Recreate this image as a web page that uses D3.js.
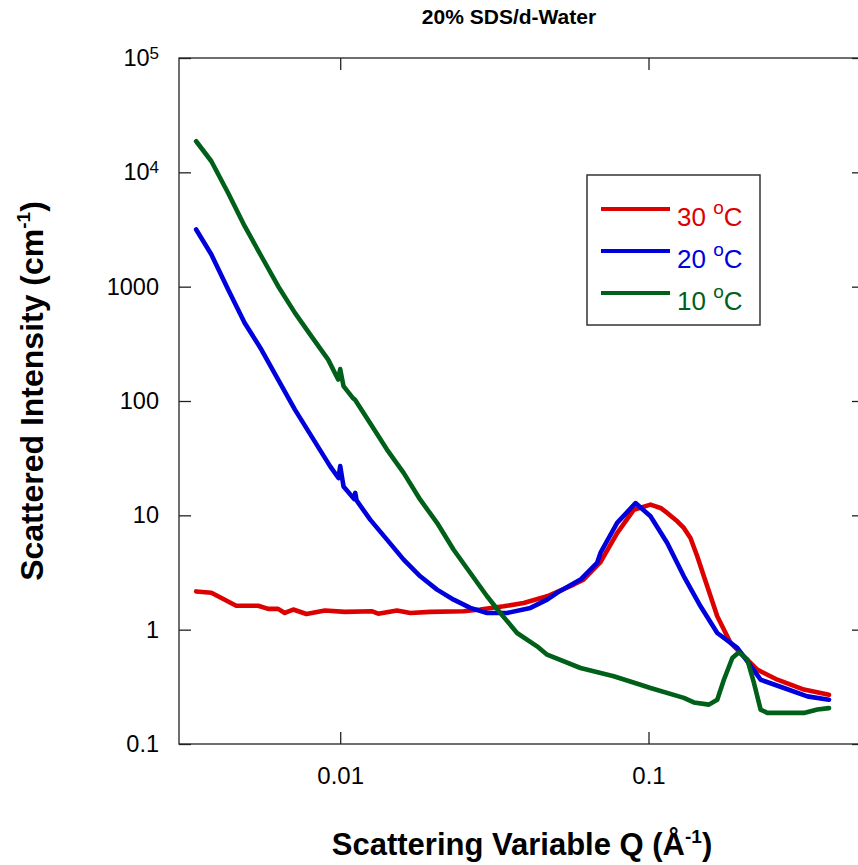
<!DOCTYPE html>
<html>
<head>
<meta charset="utf-8">
<script src="https://cdn.jsdelivr.net/npm/d3@7"></script>
<style>
  body { margin: 0; background: #fff; }
  svg { display: block; font-family: "Liberation Sans", Arial, Helvetica, sans-serif; }
</style>
</head>
<body>
<div id="chart"></div>
<script>
// Q in 1/Å, intensity in 1/cm
const q30 = [0.00341, 0.00382, 0.00460, 0.00542, 0.00584, 0.00629, 0.00661, 0.00704, 0.00777, 0.00892,
  0.01036, 0.01264, 0.01328, 0.01528, 0.01688, 0.01959, 0.02513, 0.02848, 0.03390, 0.03937,
  0.04690, 0.05721, 0.06152, 0.06985, 0.07911, 0.08963, 0.1015, 0.1094, 0.1150, 0.1240,
  0.1302, 0.1368, 0.1439, 0.1512, 0.1590, 0.1671, 0.1846, 0.2040, 0.2254, 0.2618, 0.3193, 0.3850];
const i30 = [2.16, 2.10, 1.62, 1.62, 1.52, 1.52, 1.40, 1.50, 1.37, 1.47,
  1.43, 1.45, 1.38, 1.47, 1.40, 1.43, 1.45, 1.50, 1.60, 1.71,
  1.96, 2.48, 2.74, 3.9, 7.0, 11.2, 12.4, 11.6, 10.5, 8.87,
  7.76, 6.34, 4.38, 2.93, 1.96, 1.31, 0.765, 0.585, 0.447, 0.365, 0.299, 0.27];

const q20 = [0.00341, 0.00382, 0.00433, 0.00490, 0.00555, 0.00629, 0.00713, 0.00928, 0.00987, 0.0100,
  0.01025, 0.01110, 0.01119, 0.01130, 0.01251, 0.01418, 0.01606, 0.01818, 0.02061, 0.02333,
  0.02643, 0.02994, 0.03477, 0.04139, 0.04690, 0.05053, 0.06017, 0.06810, 0.06985, 0.07911,
  0.09077, 0.1015, 0.1150, 0.1302, 0.1475, 0.1671, 0.1941, 0.2092, 0.2310, 0.2750, 0.3276, 0.3850];
const i20 = [3160, 1910, 943, 482, 282, 154, 84, 26.8, 21.2, 27,
  17.9, 13.9, 15.7, 13.5, 9.17, 6.13, 4.1, 2.93, 2.24, 1.83,
  1.55, 1.40, 1.40, 1.55, 1.83, 2.10, 2.74, 3.83, 4.69, 8.58,
  12.8, 9.8, 5.73, 2.93, 1.60, 0.935, 0.692, 0.528, 0.365, 0.309, 0.261, 0.244];

const q10 = [0.00341, 0.00382, 0.00433, 0.00490, 0.00555, 0.00629, 0.00713, 0.00807, 0.00914, 0.00985,
  0.0100, 0.01025, 0.01100, 0.01116, 0.01251, 0.01418, 0.01606, 0.01818, 0.02061, 0.02333,
  0.02643, 0.02994, 0.03307, 0.03747, 0.04350, 0.04690, 0.06017, 0.07713, 0.09419, 0.1015,
  0.1302, 0.1403, 0.1570, 0.1671, 0.1756, 0.1870, 0.1964, 0.2092, 0.2198, 0.2310, 0.2429,
  0.3193, 0.3530, 0.3850];
const i10 = [18700, 12500, 6600, 3380, 1845, 1009, 590, 368, 230, 154,
  190, 135, 106, 103, 64, 37.6, 23.5, 13.7, 8.6, 5.0,
  3.13, 1.96, 1.40, 0.935, 0.715, 0.604, 0.462, 0.391, 0.330, 0.309,
  0.253, 0.231, 0.221, 0.244, 0.365, 0.565, 0.634, 0.547, 0.342, 0.200, 0.187,
  0.187, 0.200, 0.206];

const seriesLabels = ['30', '20', '10'];
const seriesColors = ['#dd0000', '#0000dd', '#006019'];

const xTicks = [0.01, 0.1];
const xTickLabels = ['0.01', '0.1'];
const yTicks = [0.1, 1, 10, 100, 1000, 1e4, 1e5];
const yTickLabels = ['0.1', '1', '10', '100', '1000', '10^4', '10^5'];

const series = [
  { label: seriesLabels[0], color: seriesColors[0], values: d3.zip(q30, i30) },
  { label: seriesLabels[1], color: seriesColors[1], values: d3.zip(q20, i20) },
  { label: seriesLabels[2], color: seriesColors[2], values: d3.zip(q10, i10) },
];

const margin = { top: 58, right: -6, bottom: 121, left: 179 };
const W = 858, H = 865;
const width = W - margin.left - margin.right;
const height = H - margin.top - margin.bottom;

const root = d3.select('#chart').append('svg')
  .attr('width', W)
  .attr('height', H);

const svg = root.append('g')
  .attr('transform', `translate(${margin.left},${margin.top})`);

const x = d3.scaleLog().domain([0.003, 0.5]).range([0, width]);
const y = d3.scaleLog().domain([0.1, 1e5]).range([height, 0]);

const axisColor = '#222';

function styleAxis(g, size) {
  g.attr('font-family', null).attr('font-size', size);
  g.select('.domain').remove();
  g.selectAll('.tick line').attr('stroke', axisColor).attr('stroke-width', 1.3);
  g.selectAll('.tick text').attr('fill', '#000');
}

// bottom / top
svg.append('g')
  .attr('transform', `translate(0,${height})`)
  .call(d3.axisBottom(x).tickValues(xTicks).tickFormat((d, i) => xTickLabels[i])
    .tickSizeInner(-12).tickSizeOuter(0).tickPadding(23))
  .call(g => styleAxis(g, 24));

svg.append('g')
  .call(d3.axisTop(x).tickValues(xTicks).tickFormat('').tickSizeInner(-12).tickSizeOuter(0))
  .call(g => styleAxis(g, 24));

// left / right
svg.append('g')
  .call(d3.axisLeft(y).tickValues(yTicks).tickFormat((d, i) => yTickLabels[i])
    .tickSizeInner(-12).tickSizeOuter(0).tickPadding(20))
  .call(g => styleAxis(g, 23.5))
  .selectAll('.tick text')
    .each(function(d, i) {
      const lab = yTickLabels[i];
      if (lab.indexOf('^') < 0) return;
      const [base, exp] = lab.split('^');
      const t = d3.select(this).text('');
      t.append('tspan').text(base);
      t.append('tspan').attr('font-size', 17).attr('dy', '-7').text(exp);
    });

svg.append('g')
  .attr('transform', `translate(${width},0)`)
  .call(d3.axisRight(y).tickValues(yTicks).tickFormat('').tickSizeInner(-12).tickSizeOuter(0))
  .call(g => styleAxis(g, 23));

// frame
svg.append('rect')
  .attr('width', width)
  .attr('height', height)
  .attr('fill', 'none')
  .attr('stroke', axisColor)
  .attr('stroke-width', 1.3);

// curves
const line = d3.line()
  .x(d => x(d[0]))
  .y(d => y(d[1]));

svg.selectAll('path.curve')
  .data(series)
  .enter()
  .append('path')
    .attr('class', 'curve')
    .attr('d', d => line(d.values))
    .attr('fill', 'none')
    .attr('stroke', d => d.color)
    .attr('stroke-width', 4.6)
    .attr('stroke-linejoin', 'round')
    .attr('stroke-linecap', 'round');

// legend
const legend = root.append('g').attr('transform', 'translate(587,175)');
legend.append('rect')
  .attr('width', 173)
  .attr('height', 150)
  .attr('fill', '#fff')
  .attr('stroke', '#333')
  .attr('stroke-width', 1.5);

series.forEach((s, i) => {
  const yy = 34 + i * 42;
  legend.append('line')
    .attr('x1', 14).attr('x2', 83)
    .attr('y1', yy).attr('y2', yy)
    .attr('stroke', s.color)
    .attr('stroke-width', 4);
  const t = legend.append('text')
    .attr('x', 90)
    .attr('y', yy + 17)
    .attr('fill', s.color)
    .attr('font-size', 26);
  t.append('tspan').text(s.label + ' ');
  t.append('tspan').attr('font-size', 19).attr('dy', -12).text('o');
  t.append('tspan').attr('dy', 12).text('C');
});

// titles
root.append('text')
  .attr('x', 509)
  .attr('y', 24)
  .attr('text-anchor', 'middle')
  .attr('font-weight', 'bold')
  .attr('font-size', 21)
  .text('20% SDS/d-Water');

const xt = root.append('text')
  .attr('x', 522)
  .attr('y', 855)
  .attr('text-anchor', 'middle')
  .attr('font-weight', 'bold')
  .attr('font-size', 31);
xt.append('tspan').text('Scattering Variable Q (Å');
xt.append('tspan').attr('font-size', 19).attr('dy', -12).text('-1');
xt.append('tspan').attr('dy', 12).text(')');

const yt = root.append('text')
  .attr('transform', 'translate(43,391) rotate(-90)')
  .attr('text-anchor', 'middle')
  .attr('font-weight', 'bold')
  .attr('font-size', 32);
yt.append('tspan').text('Scattered Intensity (cm');
yt.append('tspan').attr('font-size', 19).attr('dy', -13).text('-1');
yt.append('tspan').attr('dy', 13).text(')');
</script>
</body>
</html>
